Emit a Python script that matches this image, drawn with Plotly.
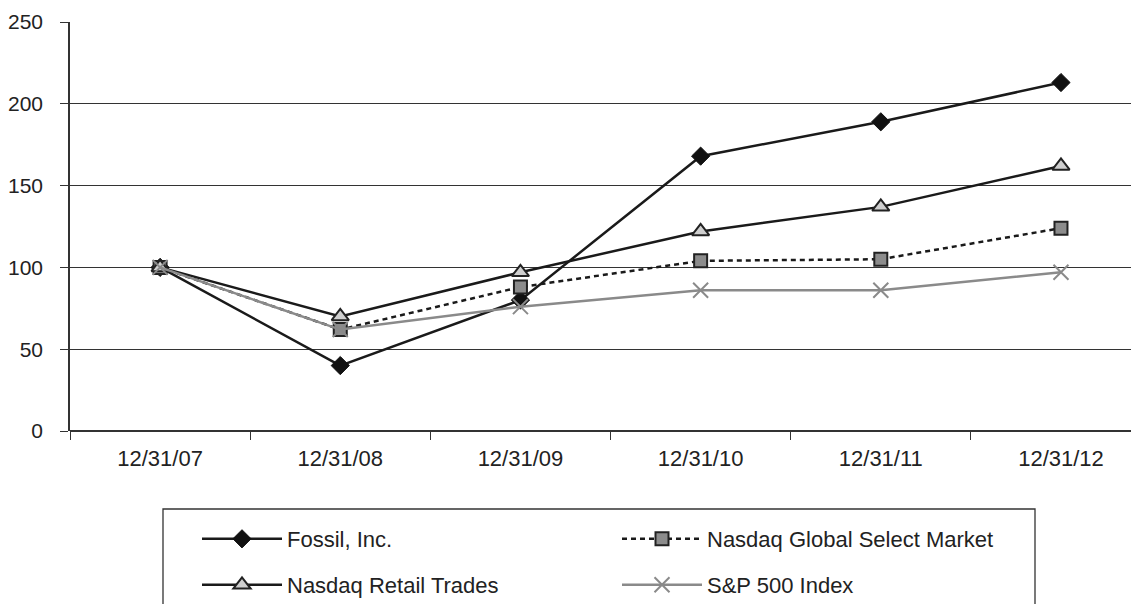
import plotly.graph_objects as go

dates = ["12/31/07", "12/31/08", "12/31/09", "12/31/10", "12/31/11", "12/31/12"]
fossil = [100, 40, 80, 168, 189, 213]
nasdaq_global = [100, 62, 88, 104, 105, 124]
nasdaq_retail = [100, 70, 97, 122, 137, 162]
sp500 = [100, 62, 76, 86, 86, 97]
y_ticks = [0, 50, 100, 150, 200, 250]

FONT = "Liberation Sans, Arial, sans-serif"
FS = 22

# page body adds an 8px offset; figure is sized to fit the 1139x604 window
OFF = 8
W, H = 1139 - OFF, 604 - OFF
# plot-area geometry in screen pixels
SL, ST, PW, PH = 70, 22, 1069, 409
L, T = SL - OFF, ST - OFF

def px_x(sx):
    return (sx - SL) / PW
def px_y(sy):
    return (ST + PH - sy) / PH

fig = go.Figure()
fig.add_trace(go.Scatter(
    x=dates, y=fossil, name="Fossil, Inc.", mode="lines+markers", legend="legend",
    line=dict(color="#1a1a1a", width=2.5),
    marker=dict(symbol="diamond", size=14, color="#111111", line=dict(color="#111111", width=1))))
fig.add_trace(go.Scatter(
    x=dates, y=nasdaq_global, name="Nasdaq Global Select Market", mode="lines+markers", legend="legend2",
    line=dict(color="#1a1a1a", width=2.5, dash="5px,4px"),
    marker=dict(symbol="square", size=13, color="#8c8c8c", line=dict(color="#222222", width=2))))
fig.add_trace(go.Scatter(
    x=dates, y=nasdaq_retail, name="Nasdaq Retail Trades", mode="lines+markers", legend="legend3",
    line=dict(color="#1a1a1a", width=2.5),
    marker=dict(symbol="triangle-up", size=15, color="#cfcfcf", line=dict(color="#222222", width=2))))
fig.add_trace(go.Scatter(
    x=dates, y=sp500, name="S&P 500 Index", mode="lines+markers", legend="legend4",
    line=dict(color="#8a8a8a", width=2.5),
    marker=dict(symbol="x-thin", size=15, color="#8a8a8a", line=dict(color="#8a8a8a", width=2))))

def leg(x_px, y_px):
    return dict(
        x=px_x(x_px), xanchor="left", y=px_y(y_px), yanchor="middle",
        bgcolor="rgba(0,0,0,0)", borderwidth=0, itemwidth=80,
        font=dict(family=FONT, size=FS, color="#222222"),
    )

fig.update_layout(
    width=W, height=H,
    margin=dict(l=L, r=W - L - PW, t=T, b=H - T - PH, autoexpand=False),
    paper_bgcolor="white", plot_bgcolor="white",
    font=dict(family=FONT, size=FS, color="#222222"),
    showlegend=True,
    legend=leg(197, 539),
    legend2=leg(617, 539),
    legend3=leg(197, 585),
    legend4=leg(617, 585),
    xaxis=dict(
        type="category", range=[-0.5, 5.433], automargin=False,
        tickson="boundaries", ticks="outside", ticklen=8, tickcolor="#333333",
        showline=False, showgrid=False, zeroline=False,
        ticklabelstandoff=12,
    ),
    yaxis=dict(
        range=[0, 250], tickvals=y_ticks, automargin=False,
        ticks="outside", ticklen=8, tickcolor="#333333",
        tickfont=dict(family=FONT, size=21, color="#222222"),
        showline=True, linecolor="#333333", linewidth=1.5,
        showgrid=True, gridcolor="#333333", gridwidth=1.3,
        zeroline=True, zerolinecolor="#333333", zerolinewidth=1.5,
        ticklabelstandoff=13,
    ),
    shapes=[dict(
        type="rect", xref="paper", yref="paper",
        x0=px_x(163), x1=px_x(1035), y0=px_y(509), y1=px_y(620),
        line=dict(color="#333333", width=1.3), fillcolor="rgba(0,0,0,0)",
    )],
)

fig.write_html("out.html")
